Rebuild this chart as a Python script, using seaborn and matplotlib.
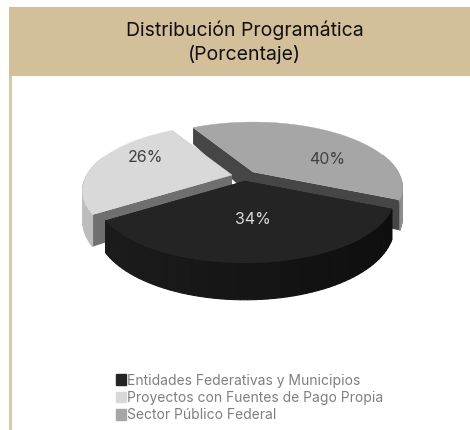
import numpy as np
import matplotlib
matplotlib.use('Agg')
import matplotlib.pyplot as plt
from matplotlib.patches import Polygon, Rectangle, Patch
import seaborn as sns

categories = ['Entidades Federativas y Municipios', 'Proyectos con Fuentes de Pago Propia', 'Sector Público Federal']
values = [34, 26, 40]
title_lines = ['Distribución Programática', '(Porcentaje)']

top_colors = ['#242424', '#d9d9d9', '#a6a6a6']
wall_colors = ['#161616', '#6f6f6f', '#464646']
rim_colors = [('#1d1d1d', '#0d0d0d'), ('#bcbcbc', '#c8c8c8'), ('#8c8c8c', '#c4c4c4')]
text_colors = ['#d9d9d9', '#404040', '#404040']
label_xy = [(253, 220), (145, 158), (327, 160)]

sns.set_theme(style='white')
plt.rcParams['font.family'] = ['Inter', 'DejaVu Sans']

fig = plt.figure(figsize=(4.7, 4.3), dpi=100)
ax = fig.add_axes([0, 0, 1, 1])
ax.set_xlim(0, 470)
ax.set_ylim(430, 0)
ax.axis('off')

# banner and left rule
ax.add_patch(Rectangle((9, 7), 461, 69, color='#d3bf9a', lw=0))
ax.add_patch(Rectangle((9, 76), 3, 354, color='#dcc8a2', lw=0))
ax.text(244.5, 30, title_lines[0], ha='center', va='center', fontsize=14, color='#111111')
ax.text(244.5, 54, title_lines[1], ha='center', va='center', fontsize=14, color='#111111')

# fake perspective of the tilted disc
RX, RY, K = 145, 62, 0.242


def project(ang, r, apex):
    px = r * np.cos(ang)
    py = r * np.sin(ang)
    s = 1 / (1 + K * py)
    return apex[0] + RX * px * s, apex[1] - RY * py * s


def depth(ang, r):
    return 26 - 11 * r * np.sin(ang)


def wall(edge, apex, width, **kw):
    angs = np.array([p[0] for p in edge])
    rs = np.array([p[1] for p in edge])
    x, y = project(angs, rs, apex)
    d = depth(angs, rs)
    pts = np.r_[np.c_[x, y], np.c_[x, y + d][::-1]]
    ax.add_patch(Polygon(pts, closed=True, lw=width, **kw))


apexes = [(245, 181), (232, 175), (253, 172)]
start = np.deg2rad(-24)
edges = start - np.r_[0, np.cumsum(values)] / sum(values) * 2 * np.pi

for i in [2, 1, 0]:
    a1, a2 = edges[i], edges[i + 1]
    apex = apexes[i]
    z = 2 + (2 - i)
    # radial walls
    for e in (a1, a2):
        wall([(e, 0), (e, 1)], apex, 0, color=wall_colors[i], zorder=z)
    # outer rim, thin strips for the shading, front part only
    n = 60
    grads = sns.blend_palette(rim_colors[i], n)
    arc = np.linspace(a1, a2, n + 1)
    for j in range(n):
        if np.sin(arc[j]) > 0.3:
            continue
        tone = j if i != 2 else n - 1 - j
        if i == 0:
            tone = int((1 + np.cos(arc[j])) / 2 * (n - 1))
        wall([(arc[j], 1), (arc[j + 1], 1)], apex, 0.8, color=grads[tone], zorder=z)
    # top face
    t = np.linspace(a1, a2, 120)
    x, y = project(t, np.ones_like(t), apex)
    ax.add_patch(Polygon(np.r_[[apex], np.c_[x, y]], closed=True, color=top_colors[i], lw=0.3,
                         zorder=z + 0.5))
    ax.text(label_xy[i][0], label_xy[i][1], f'{values[i]}%', ha='center', va='center', fontsize=11.5,
            color=text_colors[i], zorder=6)

handles = [Patch(facecolor=c, edgecolor=c) for c in top_colors]
ax.legend(handles, categories, loc='upper left', bbox_to_anchor=(110 / 470, 1 - 368 / 430),
          frameon=False, fontsize=10, labelcolor='#7f7f7f', handlelength=0.75, handleheight=0.8,
          handletextpad=0.1, labelspacing=0.24, borderpad=0.4, borderaxespad=0)

fig.savefig('out.png', dpi=100)
